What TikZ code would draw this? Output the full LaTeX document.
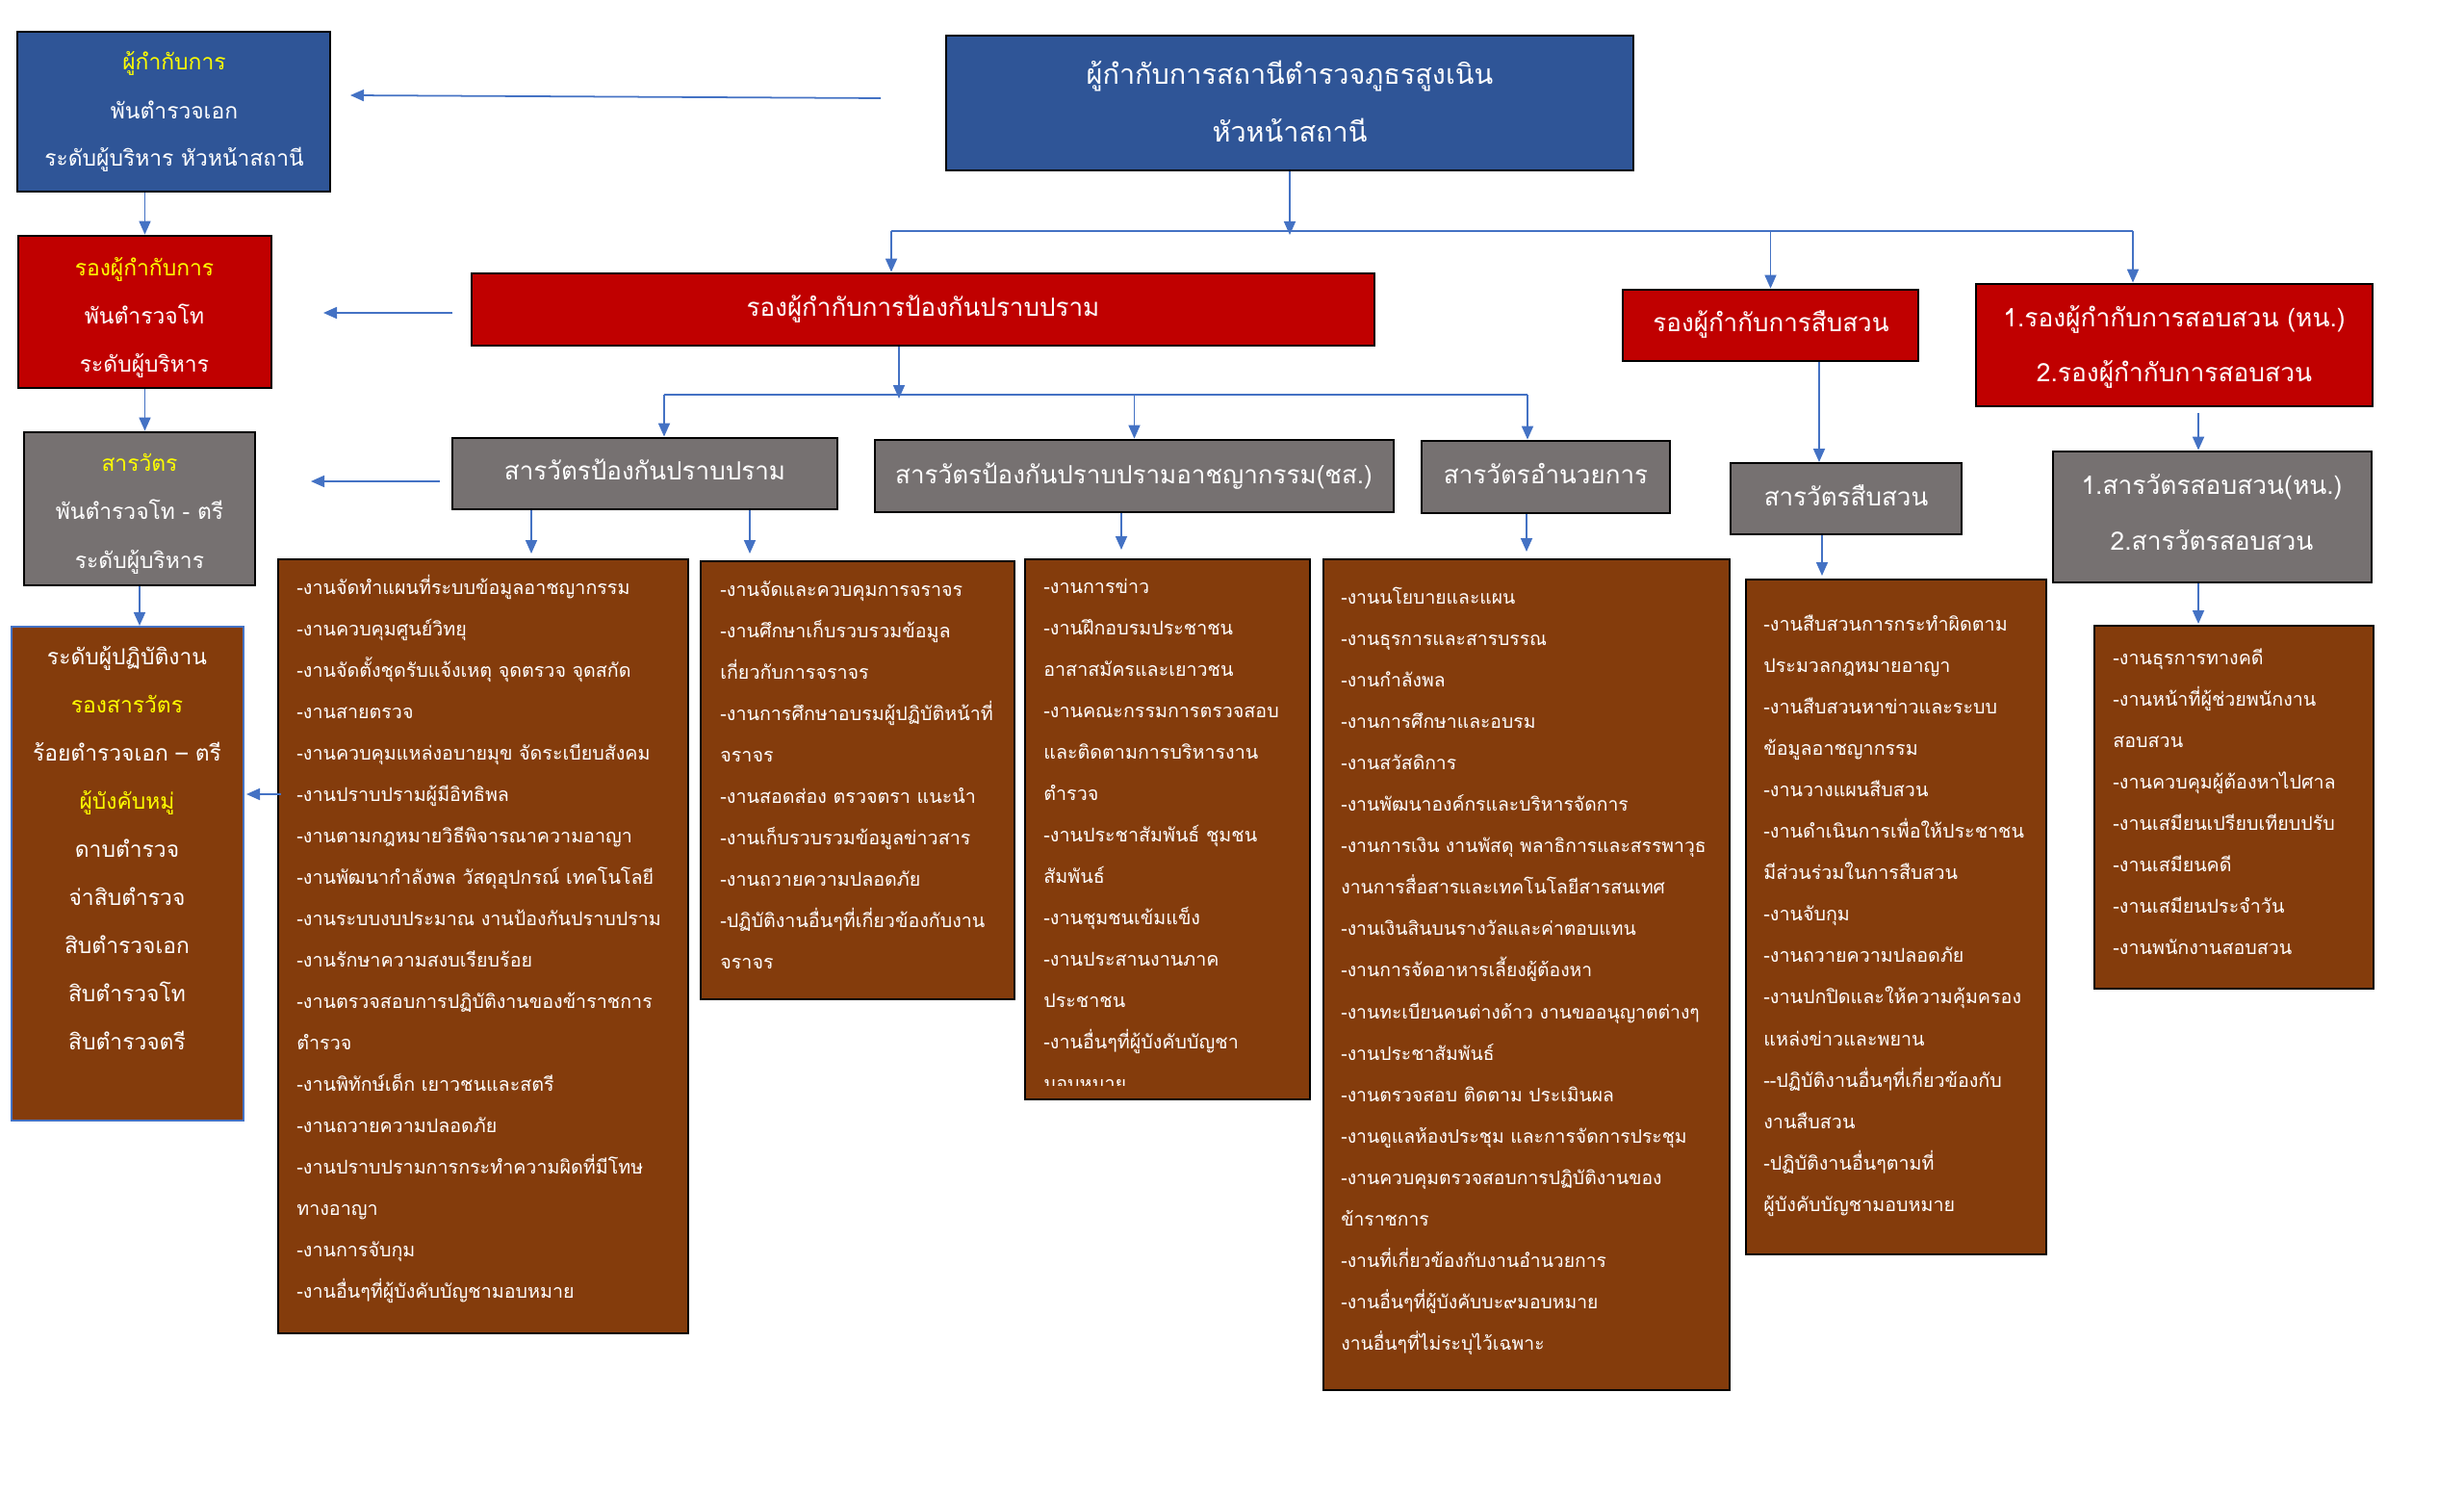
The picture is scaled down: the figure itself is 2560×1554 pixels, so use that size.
\documentclass[tikz,border=0pt]{standalone}
\usepackage{fontspec}
\newfontfamily\thaifont[Script=Thai]{Loma}
\usetikzlibrary{fit,arrows.meta,calc}
\definecolor{hdrblue}{RGB}{47,85,151}
\definecolor{hdrred}{RGB}{192,0,0}
\definecolor{hdrgray}{RGB}{118,113,113}
\definecolor{workbrown}{RGB}{132,60,12}
\definecolor{arrowblue}{RGB}{68,114,196}
\definecolor{ttlyellow}{RGB}{255,255,0}
\begin{document}
\begin{tikzpicture}[x=0.02cm,y=-0.02cm,
  bx/.style={draw=black, line width=1.6pt, inner sep=0pt, rectangle},
  bluebx/.style={bx, fill=hdrblue},
  redbx/.style={bx, fill=hdrred},
  graybx/.style={bx, fill=hdrgray},
  brownbx/.style={bx, fill=workbrown},
  arr/.style={draw=arrowblue, line width=1pt, -{Triangle[length=0.28cm,width=0.24cm]}},
  conn/.style={draw=arrowblue, line width=1pt},
  ht/.style={anchor=base, text=white, inner sep=0pt, font=\thaifont\fontsize{14.8}{17}\selectfont},
  st/.style={anchor=base, text=white, inner sep=0pt, font=\thaifont\fontsize{15}{18}\selectfont},
  ct/.style={anchor=base, text=white, inner sep=0pt, font=\thaifont\fontsize{13}{15}\selectfont},
  mt/.style={anchor=base, text=white, inner sep=0pt, font=\thaifont\fontsize{16.4}{19}\selectfont},
  wt/.style={anchor=base west, text=white, inner sep=0pt, font=\thaifont\fontsize{11.2}{13}\selectfont},
  wtb/.style={wt, font=\thaifont\fontsize{11}{13}\selectfont},
  yl/.style={text=ttlyellow}
]
\fill[white] (0,0) rectangle (2560,1554);
\useasboundingbox (0,0) rectangle (2560,1554);

% ---------- header boxes ----------
\node[bluebx, fit={(18,33) (343,199)}] (tl1) {};
\node[ct, yl] (tl1a) at (181,73) {ผู้กำกับการ};
\node[ct] (tl1b) at (181,124) {พันตำรวจเอก};
\node[ct] (tl1c) at (181,173) {ระดับผู้บริหาร หัวหน้าสถานี};

\node[bluebx, fit={(983,37) (1697,177)}] (mb) {};
\node[mt] (mba) at (1340,88) {ผู้กำกับการสถานีตำรวจภูธรสูงเนิน};
\node[mt] (mbb) at (1340,148) {หัวหน้าสถานี};

\node[redbx, fit={(19,245) (282,403)}] (lr) {};
\node[ct, yl] (lra) at (150,287) {รองผู้กำกับการ};
\node[ct] (lrb) at (150,337) {พันตำรวจโท};
\node[ct] (lrc) at (150,387) {ระดับผู้บริหาร};

\node[redbx, fit={(490,284) (1428,359)}] (br) {};
\node[ht] (brt) at (959,329) {รองผู้กำกับการป้องกันปราบปราม};
\node[redbx, fit={(1686,301) (1993,375)}] (ss) {};
\node[ht] (sst) at (1840,345) {รองผู้กำกับการสืบสวน};
\node[redbx, fit={(2053,295) (2465,422)}] (sos) {};
\node[st] (sosa) at (2259,340) {1.รองผู้กำกับการสอบสวน (หน.)};
\node[st] (sosb) at (2259,397) {2.รองผู้กำกับการสอบสวน};

\node[graybx, fit={(25,449) (265,608)}] (lg) {};
\node[ct, yl] (lga) at (145,490) {สารวัตร};
\node[ct] (lgb) at (145,540) {พันตำรวจโท - ตรี};
\node[ct] (lgc) at (145,590) {ระดับผู้บริหาร};

\node[graybx, fit={(470,455) (870,529)}] (ga) {};
\node[ht] (gat) at (670,499) {สารวัตรป้องกันปราบปราม};
\node[graybx, fit={(909,457) (1448,532)}] (gb) {};
\node[ht] (gbt) at (1178,502) {สารวัตรป้องกันปราบปรามอาชญากรรม(ชส.)};
\node[graybx, fit={(1477,458) (1735,533)}] (gc) {};
\node[ht] (gct) at (1606,502) {สารวัตรอำนวยการ};
\node[graybx, fit={(1798,481) (2038,555)}] (gd) {};
\node[ht] (gdt) at (1918,525) {สารวัตรสืบสวน};
\node[graybx, fit={(2133,469) (2464,605)}] (ge) {};
\node[st] (gea) at (2298,514) {1.สารวัตรสอบสวน(หน.)};
\node[st] (geb) at (2298,571) {2.สารวัตรสอบสวน};

% ---------- left operational box ----------
\node[bx, draw=arrowblue, line width=1.2pt, fill=workbrown, fit={(12,651) (253,1164)}] (lb) {};
\foreach [count=\i] \t in {ระดับผู้ปฏิบัติงาน,{\color{ttlyellow}รองสารวัตร},ร้อยตำรวจเอก – ตรี,{\color{ttlyellow}ผู้บังคับหมู่},ดาบตำรวจ,จ่าสิบตำรวจ,สิบตำรวจเอก,สิบตำรวจโท,สิบตำรวจตรี}
  \node[ct] (lb\i) at (132,{690+(\i-1)*50}) {\t};

% ---------- work boxes ----------
\node[brownbx, fit={(289,581) (715,1385)}] (w1) {};
\foreach [count=\i] \t in {-งานจัดทำแผนที่ระบบข้อมูลอาชญากรรม,-งานควบคุมศูนย์วิทยุ,-งานจัดตั้งชุดรับแจ้งเหตุ จุดตรวจ จุดสกัด,-งานสายตรวจ,-งานควบคุมแหล่งอบายมุข จัดระเบียบสังคม,-งานปราบปรามผู้มีอิทธิพล,-งานตามกฎหมายวิธีพิจารณาความอาญา,-งานพัฒนากำลังพล วัสดุอุปกรณ์ เทคโนโลยี,-งานระบบงบประมาณ งานป้องกันปราบปราม,-งานรักษาความสงบเรียบร้อย,-งานตรวจสอบการปฏิบัติงานของข้าราชการ,ตำรวจ,-งานพิทักษ์เด็ก เยาวชนและสตรี,-งานถวายความปลอดภัย,-งานปราบปรามการกระทำความผิดที่มีโทษ,ทางอาญา,-งานการจับกุม,-งานอื่นๆที่ผู้บังคับบัญชามอบหมาย}
  \node[wt] (w1l\i) at (308,{617+(\i-1)*43}) {\t};

\node[brownbx, fit={(728,583) (1054,1038)}] (w2) {};
\foreach [count=\i] \t in {-งานจัดและควบคุมการจราจร,-งานศึกษาเก็บรวบรวมข้อมูล,เกี่ยวกับการจราจร,-งานการศึกษาอบรมผู้ปฏิบัติหน้าที่,จราจร,-งานสอดส่อง ตรวจตรา แนะนำ,-งานเก็บรวบรวมข้อมูลข่าวสาร,-งานถวายความปลอดภัย,-ปฏิบัติงานอื่นๆที่เกี่ยวข้องกับงาน,จราจร}
  \node[wt] (w2l\i) at (748,{619+(\i-1)*43}) {\t};

\node[brownbx, fit={(1065,581) (1361,1142)}] (w3) {};
\begin{scope}
\clip (1065,581) rectangle (1361,1127);
\foreach [count=\i] \t in {-งานการข่าว,-งานฝึกอบรมประชาชน,อาสาสมัครและเยาวชน,-งานคณะกรรมการตรวจสอบ,และติดตามการบริหารงาน,ตำรวจ,-งานประชาสัมพันธ์ ชุมชน,สัมพันธ์,-งานชุมชนเข้มแข็ง,-งานประสานงานภาค,ประชาชน,-งานอื่นๆที่ผู้บังคับบัญชา,มอบหมาย}
  \node[wt] (w3l\i) at (1084,{616+(\i-1)*43}) {\t};
\end{scope}

\node[brownbx, fit={(1375,581) (1797,1444)}] (w4) {};
\foreach [count=\i] \t in {-งานนโยบายและแผน,-งานธุรการและสารบรรณ,-งานกำลังพล,-งานการศึกษาและอบรม,-งานสวัสดิการ,-งานพัฒนาองค์กรและบริหารจัดการ,-งานการเงิน งานพัสดุ พลาธิการและสรรพาวุธ,งานการสื่อสารและเทคโนโลยีสารสนเทศ,-งานเงินสินบนรางวัลและค่าตอบแทน,-งานการจัดอาหารเลี้ยงผู้ต้องหา,-งานทะเบียนคนต่างด้าว งานขออนุญาตต่างๆ,-งานประชาสัมพันธ์,-งานตรวจสอบ ติดตาม ประเมินผล,-งานดูแลห้องประชุม และการจัดการประชุม,-งานควบคุมตรวจสอบการปฏิบัติงานของ,ข้าราชการ,-งานที่เกี่ยวข้องกับงานอำนวยการ,-งานอื่นๆที่ผู้บังคับบะ๙มอบหมาย,งานอื่นๆที่ไม่ระบุไว้เฉพาะ}
  \node[wtb] (w4l\i) at (1393,{627+(\i-1)*43.1}) {\t};

\node[brownbx, fit={(1814,602) (2126,1303)}] (w5) {};
\foreach [count=\i] \t in {-งานสืบสวนการกระทำผิดตาม,ประมวลกฎหมายอาญา,-งานสืบสวนหาข่าวและระบบ,ข้อมูลอาชญากรรม,-งานวางแผนสืบสวน,-งานดำเนินการเพื่อให้ประชาชน,มีส่วนร่วมในการสืบสวน,-งานจับกุม,-งานถวายความปลอดภัย,-งานปกปิดและให้ความคุ้มครอง,แหล่งข่าวและพยาน,-{}-ปฏิบัติงานอื่นๆที่เกี่ยวข้องกับ,งานสืบสวน,-ปฏิบัติงานอื่นๆตามที่,ผู้บังคับบัญชามอบหมาย}
  \node[wt] (w5l\i) at (1832,{655+(\i-1)*43.1}) {\t};

\node[brownbx, fit={(2176,650) (2466,1027)}] (w6) {};
\foreach [count=\i] \t in {-งานธุรการทางคดี,-งานหน้าที่ผู้ช่วยพนักงาน,สอบสวน,-งานควบคุมผู้ต้องหาไปศาล,-งานเสมียนเปรียบเทียบปรับ,-งานเสมียนคดี,-งานเสมียนประจำวัน,-งานพนักงานสอบสวน}
  \node[wt] (w6l\i) at (2195,{690+(\i-1)*43.1}) {\t};

% ---------- connectors ----------
\coordinate (a1s) at (915,102);
\coordinate (a1e) at (364,99);
\draw[arr] (a1s) -- (a1e);

\coordinate (h1l) at (926,240);
\coordinate (h1r) at (2216,240);
\draw[conn] (h1l) -- (h1r);
\draw[arr] (mb.south) -- ($(mb.south |- h1l)+(0,4)$);
\draw[arr] (h1l) -- (h1l |- br.north);
\draw[arr] (ss.north |- h1l) -- (ss.north);
\draw[arr] (h1r) -- (h1r |- sos.north);

\draw[arr] (tl1.south -| lr.north) -- (lr.north);
\draw[arr] (lr.south) -- (lr.south |- lg.north);
\draw[arr] (lg.south) -- (lg.south |- lb.north);

\coordinate (a2s) at (470,325);
\coordinate (a2e) at (336,325);
\draw[arr] (a2s) -- (a2e);
\coordinate (a3s) at (457,500);
\coordinate (a3e) at (323,500);
\draw[arr] (a3s) -- (a3e);
\coordinate (a4s) at (292,825);
\coordinate (a4e) at (256,825);
\draw[arr] (a4s) -- (a4e);

\coordinate (h2l) at (690,410);
\coordinate (h2r) at (1587,410);
\coordinate (h2m) at (934,410);
\draw[conn] (h2l) -- (h2r);
\draw[arr] (br.south -| h2m) -- ($(h2m)+(0,4)$);
\draw[arr] (h2l) -- (h2l |- ga.north);
\draw[arr] (gb.north |- h2l) -- (gb.north);
\draw[arr] (h2r) -- (h2r |- gc.north);

\coordinate (d1) at (552,575);
\coordinate (d2) at (779,575);
\coordinate (d3) at (1165,571);
\coordinate (d4) at (1586,573);
\coordinate (d5) at (1893,598);
\coordinate (d6) at (2284,648);
\draw[arr] (ga.south -| d1) -- (d1);
\draw[arr] (ga.south -| d2) -- (d2);
\draw[arr] (gb.south -| d3) -- (d3);
\draw[arr] (gc.south -| d4) -- (d4);
\draw[arr] (gd.south -| d5) -- (d5);
\draw[arr] (ge.south -| d6) -- (d6);

\coordinate (sd) at (1890,480);
\draw[arr] (ss.south -| sd) -- (sd);
\coordinate (se) at (2284,429);
\draw[arr] (se) -- (se |- ge.north);
\end{tikzpicture}
\end{document}
